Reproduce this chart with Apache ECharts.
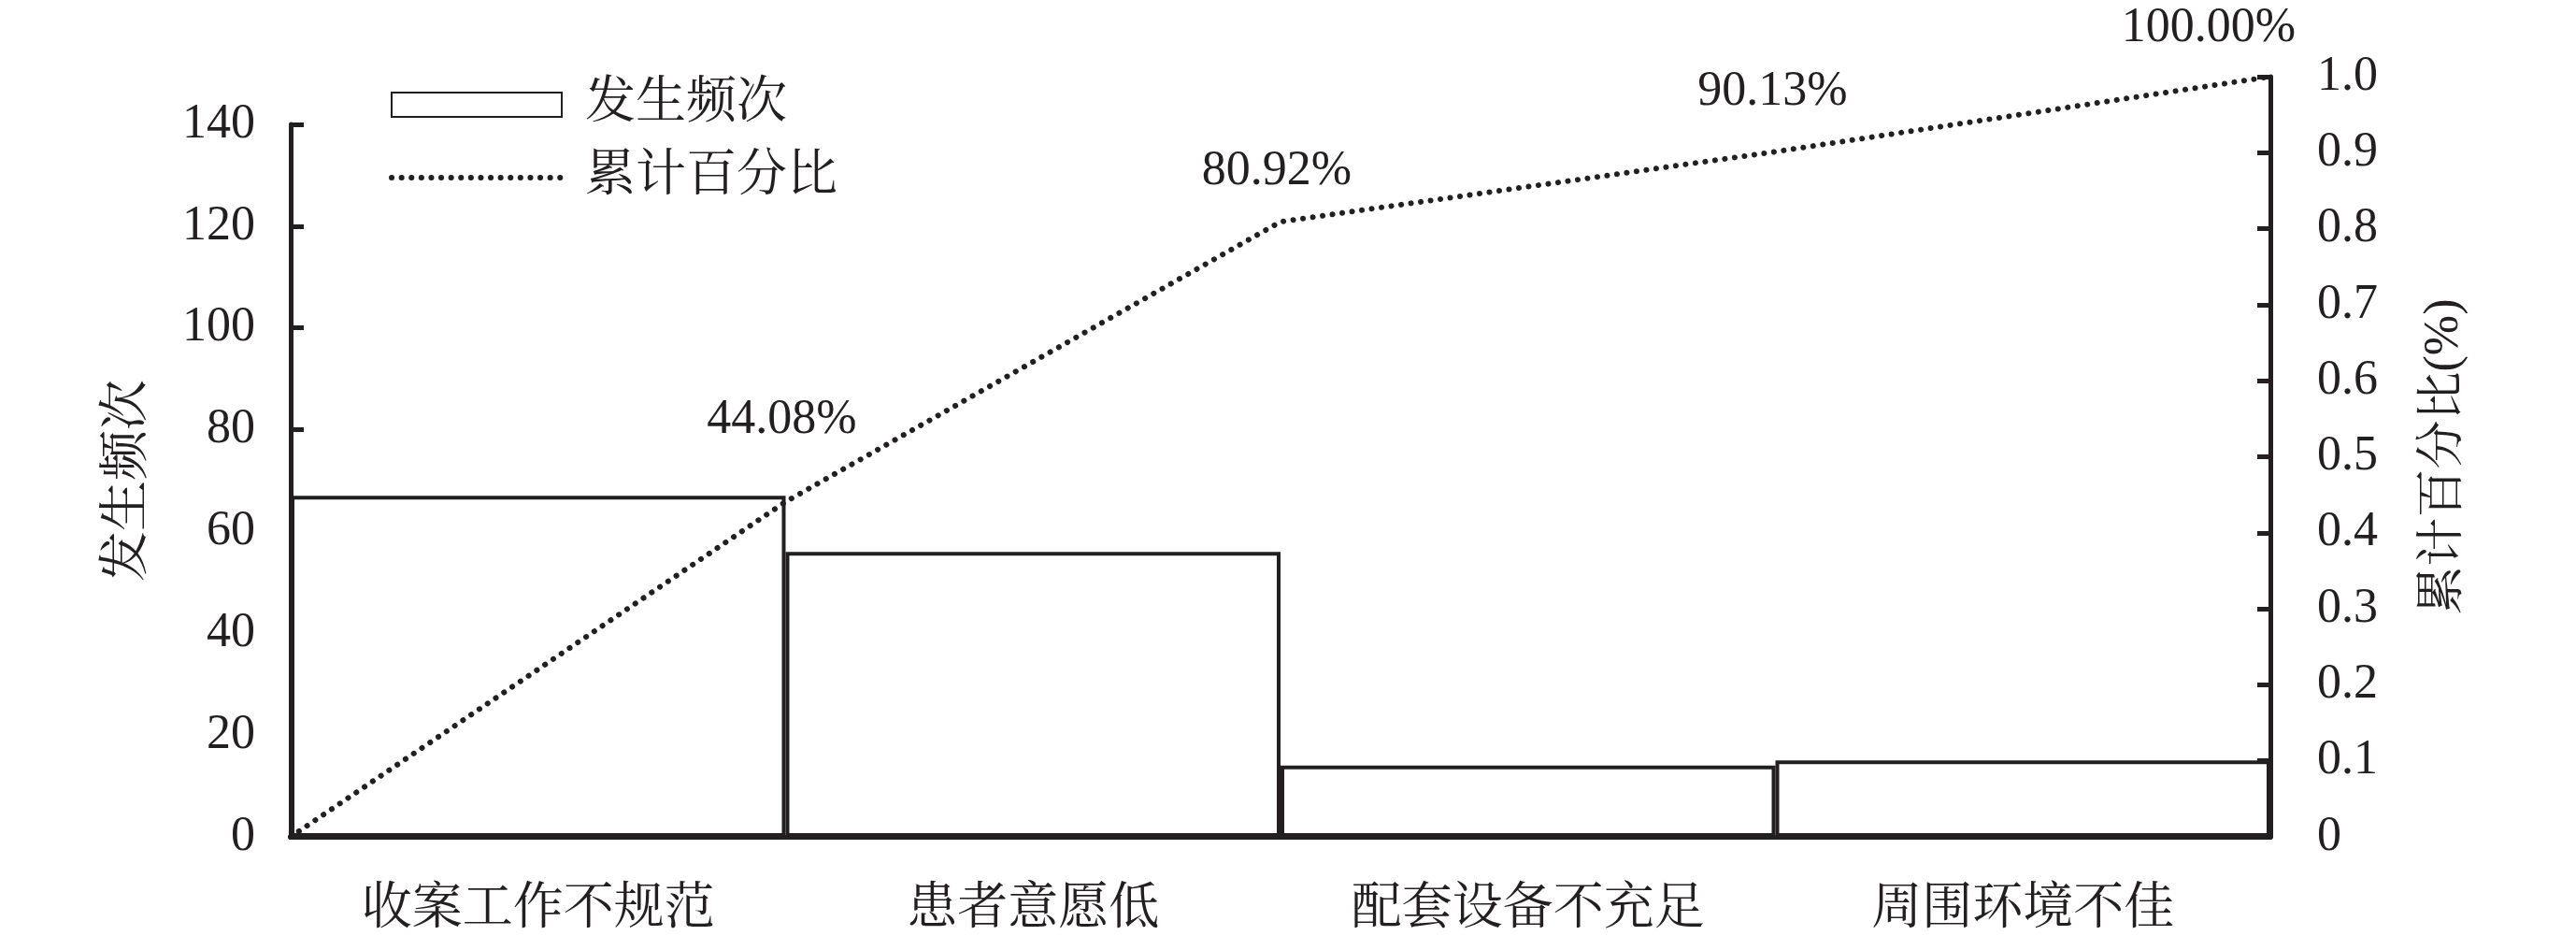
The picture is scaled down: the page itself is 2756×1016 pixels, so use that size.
<!DOCTYPE html>
<html>
<head>
<meta charset="utf-8">
<script src="https://cdn.jsdelivr.net/npm/echarts@6/dist/echarts.min.js"></script>
<style>
  html, body { margin: 0; padding: 0; background: #fff; }
  #chart { width: 2756px; height: 1016px; }
</style>
</head>
<body>
<div id="chart"></div>
<script>
// Pareto data: occurrence counts per cause and cumulative share
const categories = ['收案工作不规范', '患者意愿低', '配套设备不充足', '周围环境不佳'];
const counts = [67, 56, 14, 15];
// cumulative share at each bar boundary (start, then after each cause)
const cumulativeShare = [0, 0.4408, 0.8092, 0.9013, 1.0];
const leftTicks = { min: 0, max: 140, interval: 20 };
const rightTicks = { min: 0, max: 1, interval: 0.1 };

const FONT = "'Liberation Serif', 'Noto Serif CJK SC', 'Noto Sans CJK SC', serif";
const INK = '#231f20';
const DOTTED = { color: INK, width: 6, type: [0.1, 10.5], cap: 'round' };

// label nudges for the cumulative-share annotations [dx, dy]
const labelNudge = [[0, 0], [-4, -56], [-4, -22], [-3, -32], [-66, -20]];

const lineData = cumulativeShare.map((v, i) => ({
  value: [i, v],
  label: {
    show: i > 0,
    offset: labelNudge[i]
  }
}));

const chart = echarts.init(document.getElementById('chart'), null, { renderer: 'canvas' });

chart.setOption({
  backgroundColor: '#fff',
  animation: false,
  textStyle: { fontFamily: FONT, color: INK },
  legend: {
    orient: 'vertical',
    left: 411,
    top: 80,
    itemWidth: 182,
    itemHeight: 26,
    itemGap: 24,
    textStyle: { fontFamily: FONT, fontSize: 54, color: INK, padding: [0, 0, 0, 20] },
    data: [
      { name: '发生频次', icon: 'rect' },
      {
        name: '累计百分比',
        itemStyle: { color: 'rgba(0,0,0,0)', borderWidth: 0 },
        lineStyle: DOTTED
      }
    ]
  },
  grid: [
    { left: 311, right: 327, top: 133, bottom: 121 },
    { left: 311, right: 327, top: 82, bottom: 121 }
  ],
  xAxis: [
    {
      type: 'category',
      gridIndex: 0,
      data: categories,
      boundaryGap: true,
      axisLine: { lineStyle: { color: INK, width: 5 } },
      axisTick: { show: false },
      axisLabel: { fontFamily: FONT, fontSize: 54, color: INK, margin: 52 },
      splitLine: { show: false }
    },
    {
      type: 'value',
      gridIndex: 1,
      min: 0,
      max: cumulativeShare.length - 1,
      show: false,
      axisLine: { onZero: false }
    }
  ],
  yAxis: [
    {
      type: 'value',
      gridIndex: 0,
      position: 'left',
      min: leftTicks.min,
      max: leftTicks.max,
      interval: leftTicks.interval,
      name: '发生频次',
      nameLocation: 'middle',
      nameGap: 146,
      nameTextStyle: { fontFamily: FONT, fontSize: 54, color: INK },
      axisLine: { show: true, onZero: false, lineStyle: { color: INK, width: 5 } },
      axisTick: { show: true, inside: true, length: 14, lineStyle: { color: INK, width: 5 } },
      axisLabel: { fontFamily: FONT, fontSize: 52, color: INK, margin: 38 },
      splitLine: { show: false }
    },
    {
      type: 'value',
      gridIndex: 1,
      position: 'right',
      min: rightTicks.min,
      max: rightTicks.max,
      interval: rightTicks.interval,
      name: '累计百分比(%)',
      nameLocation: 'middle',
      nameGap: 160,
      nameTextStyle: { fontFamily: FONT, fontSize: 52, color: INK },
      axisLine: { show: true, onZero: false, lineStyle: { color: INK, width: 5 } },
      axisTick: { show: true, inside: true, length: 14, lineStyle: { color: INK, width: 5 } },
      axisLabel: {
        fontFamily: FONT, fontSize: 52, color: INK, margin: 50,
        formatter: v => (v === 0 ? '0' : v.toFixed(1))
      },
      splitLine: { show: false }
    }
  ],
  series: [
    {
      name: '发生频次',
      type: 'bar',
      xAxisIndex: 0,
      yAxisIndex: 0,
      data: counts,
      barWidth: '100%',
      barCategoryGap: '0%',
      itemStyle: { color: '#fff', borderColor: INK, borderWidth: 4 },
      z: 2
    },
    {
      name: '累计百分比',
      type: 'line',
      xAxisIndex: 1,
      yAxisIndex: 1,
      data: lineData,
      symbol: 'circle',
      symbolSize: 1,
      showSymbol: true,
      lineStyle: DOTTED,
      itemStyle: { color: 'rgba(0,0,0,0)' },
      label: {
        show: true,
        position: 'top',
        fontFamily: FONT,
        fontSize: 52,
        color: INK,
        formatter: p => (p.value[1] * 100).toFixed(2) + '%'
      },
      z: 5
    }
  ]
});
</script>
</body>
</html>
